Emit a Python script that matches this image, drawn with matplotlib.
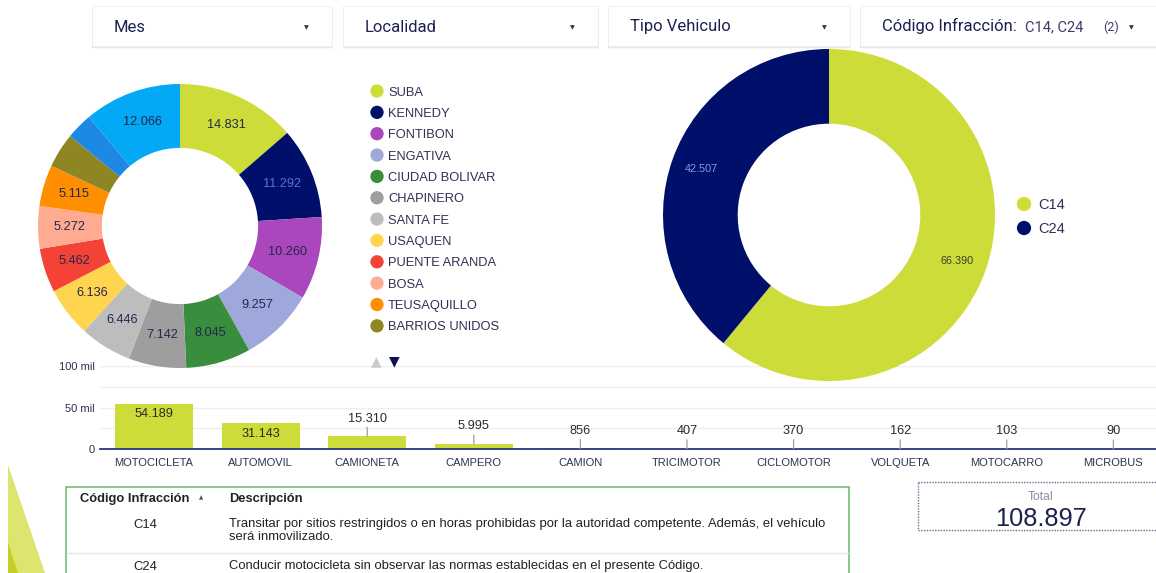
import matplotlib
matplotlib.use("Agg")
import matplotlib.pyplot as plt
from matplotlib.patches import Rectangle, Polygon
import numpy as np

W, H = 1156, 573

# ---------------- data ----------------
filtros = ["Mes", "Localidad", "Tipo Vehiculo", "Código Infracción"]
filtro_codigo_sel = "C14, C24"
filtro_codigo_n = "(2)"

localidades = ["SUBA", "KENNEDY", "FONTIBON", "ENGATIVA", "CIUDAD BOLIVAR",
               "CHAPINERO", "SANTA FE", "USAQUEN", "PUENTE ARANDA", "BOSA",
               "TEUSAQUILLO", "BARRIOS UNIDOS", "OTRA LOCALIDAD", "OTROS"]
loc_valores = [14831, 11292, 10260, 9257, 8045, 7142, 6446, 6136, 5462, 5272,
               5115, 4300, 3273, 12066]
loc_colores = ["#CDDC39", "#00106A", "#AB47BC", "#9FA8DA", "#388E3C",
               "#9E9E9E", "#BDBDBD", "#FFD54F", "#F44336", "#FFAB91",
               "#FF8F00", "#8E8622", "#1E88E5", "#03A9F4"]
loc_leyenda_n = 12

vehiculos = ["MOTOCICLETA", "AUTOMOVIL", "CAMIONETA", "CAMPERO", "CAMION",
             "TRICIMOTOR", "CICLOMOTOR", "VOLQUETA", "MOTOCARRO", "MICROBUS"]
veh_valores = [54189, 31143, 15310, 5995, 856, 407, 370, 162, 103, 90]

codigos = ["C14", "C24"]
cod_valores = [66390, 42507]
cod_colores = ["#CDDC39", "#00106A"]

tabla_cols = ["Código Infracción", "Descripción"]
tabla_codigos = ["C14", "C24"]
tabla_desc = ["Transitar por sitios restringidos o en horas prohibidas por la autoridad competente. Además, el vehículo\nserá inmovilizado.",
              "Conducir motocicleta sin observar las normas establecidas en el presente Código."]

total = 108897

NAVY = "#1c2150"
TXT = "#2e3152"


def fmt(v):
    return f"{v:,}".replace(",", ".")


fig = plt.figure(figsize=(W / 100, H / 100), dpi=100)
fig.patch.set_facecolor("white")


def px_axes(x0, y0, w, h, **kw):
    return fig.add_axes([x0 / W, 1 - (y0 + h) / H, w / W, h / H], **kw)


# ---------------- bar chart ----------------
axb = px_axes(100, 366, 1056, 83, zorder=1)
axb.patch.set_alpha(0)
xpos = np.arange(len(vehiculos))
bars = axb.bar(xpos, veh_valores, width=0.73, color="#CDDC39", zorder=2)
axb.set_xlim(-0.507, 9.40)
axb.set_ylim(0, 100000)
axb.set_yticks([0, 25000, 50000, 75000, 100000])
axb.set_yticklabels(["0", "", "50 mil", "", "100 mil"])
axb.grid(axis="y", color="#eeeeee", lw=1, zorder=0)
axb.set_xticks(xpos)
axb.set_xticklabels(vehiculos)
for s in ["top", "right", "left"]:
    axb.spines[s].set_visible(False)
axb.spines["bottom"].set_color("#2c3580")
axb.spines["bottom"].set_linewidth(1.3)
axb.tick_params(axis="y", length=0, pad=4, labelsize=8, labelcolor=TXT)
axb.tick_params(axis="x", length=0, pad=6.5, labelsize=8, labelcolor=TXT)
for lab in axb.get_xticklabels() + axb.get_yticklabels():
    lab.set_fontfamily("Liberation Sans")
for b, v in zip(bars, veh_valores):
    xc = b.get_x() + b.get_width() / 2
    if v > 25000:
        axb.annotate(fmt(v), (xc, v), xytext=(0, -7.5), textcoords="offset points",
                     ha="center", va="center", fontsize=9.2, color="#2a2a2a",
                     family="Liberation Sans")
    else:
        axb.annotate(fmt(v), (xc, v), xytext=(0, 12.8), textcoords="offset points",
                     ha="center", va="center", fontsize=9.2, color="#2a2a2a",
                     family="Liberation Sans",
                     arrowprops=dict(arrowstyle="-", color="#a0a0a0", lw=0.9,
                                     relpos=(0.5, 0.1), shrinkA=0, shrinkB=0))

# ---------------- left donut ----------------
axl = px_axes(38, 84, 284, 284, zorder=2)
wl, _ = axl.pie(loc_valores, colors=loc_colores, startangle=90, counterclock=False,
                radius=1, wedgeprops=dict(width=0.45, edgecolor="none"))
axl.set_xlim(-1, 1)
axl.set_ylim(-1, 1)
for w, v, c in zip(wl, loc_valores, loc_colores):
    if v < 5000:
        continue
    a = np.deg2rad((w.theta1 + w.theta2) / 2)
    col = "#5a6fd6" if c == "#00106A" else "#23274d"
    axl.text(0.78 * np.cos(a), 0.78 * np.sin(a), fmt(v), ha="center", va="center",
             fontsize=9.2, color=col, family="Liberation Sans")

# ---------------- right donut ----------------
axr = px_axes(663, 49, 332, 332, zorder=2)
wr, _ = axr.pie(cod_valores, colors=cod_colores, startangle=90, counterclock=False,
                radius=1, wedgeprops=dict(width=0.45, edgecolor="none"))
axr.set_xlim(-1, 1)
axr.set_ylim(-1, 1)
for w, v, c in zip(wr, cod_valores, cod_colores):
    a = np.deg2rad((w.theta1 + w.theta2) / 2)
    col = "#8a97e0" if c == "#00106A" else "#3d3f2c"
    axr.text(0.82 * np.cos(a), 0.82 * np.sin(a), fmt(v), ha="center", va="center",
             fontsize=7.8, color=col, family="Liberation Sans")

# ---------------- overlay ----------------
ov = px_axes(0, 0, W, H, zorder=3)
ov.set_xlim(0, W)
ov.set_ylim(H, 0)
ov.axis("off")
ov.patch.set_alpha(0)

# decorative triangles
ov.add_patch(Polygon([(8, 465), (45, 573), (8, 573)], closed=True, fc="#dde56e", ec="none"))
ov.add_patch(Polygon([(8, 543), (18, 573), (8, 573)], closed=True, fc="#c3cf22", ec="none"))

# filter boxes
boxes = [(92, 332), (343, 598), (608, 850), (860, 1170)]
for (x0, x1), name in zip(boxes, filtros):
    for k, al in enumerate([0.09, 0.06, 0.03]):
        ov.add_patch(Rectangle((x0 - 0.5, 6 + k + 0.8), x1 - x0 + 1.5, 40, fc="#000000",
                               ec="none", alpha=al))
    ov.add_patch(Rectangle((x0, 6), x1 - x0, 40, fc="white", ec="#efefef", lw=0.6))
    ov.text(x0 + 22, 31.5, name + (":" if name.startswith("Código") else ""),
            ha="left", va="baseline", fontsize=12, color=NAVY, family="Roboto")
    ax_arrow = (x1 - 26) if x1 < 1160 else 1131
    ov.text(ax_arrow, 27.5, "▼", ha="center", va="center", fontsize=4.5, color="#333333",
            family="DejaVu Sans")
ov.text(1025, 31.5, filtro_codigo_sel, ha="left", va="baseline", fontsize=10.5,
        color="#3a3f66", family="Roboto")
ov.text(1103, 31.5, filtro_codigo_n, ha="left", va="baseline", fontsize=9,
        color="#3a3f66", family="Roboto")

# left legend
for i in range(loc_leyenda_n):
    y = 91 + i * 21.35
    ov.scatter([377], [y], s=92, color=loc_colores[i], edgecolors="none")
    ov.text(388, y + 1.5, localidades[i], ha="left", va="center", fontsize=9.3, color=TXT,
            family="Liberation Sans")
ov.text(376, 361, "▲", ha="center", va="center", fontsize=10, color="#cccccc", family="DejaVu Sans")
ov.text(394, 361, "▼", ha="center", va="center", fontsize=10, color="#0d1254", family="DejaVu Sans")

# right legend
for i, (c, col) in enumerate(zip(codigos, cod_colores)):
    y = 204 + i * 24
    ov.scatter([1024], [y], s=105, color=col, edgecolors="none")
    ov.text(1038, y + 1, c, ha="left", va="center", fontsize=10.5, color=TXT, family="Liberation Sans")

# table
ov.add_patch(Rectangle((66, 487), 783, 120, fc="white", ec="#66bb6a", lw=1.1))
ov.text(80, 499, tabla_cols[0], ha="left", va="center", fontsize=9.3, fontweight="bold",
        color="#222222", family="Liberation Sans")
ov.text(201, 498, "▲", ha="center", va="center", fontsize=4, color="#555555", family="DejaVu Sans")
ov.text(229, 499, tabla_cols[1], ha="left", va="center", fontsize=9.3, fontweight="bold",
        color="#222222", family="Liberation Sans")
row_y = [525, 567]
for i, (cod, desc) in enumerate(zip(tabla_codigos, tabla_desc)):
    ov.text(145, row_y[i], cod, ha="center", va="center", fontsize=9.4, color="#222222",
            family="Liberation Sans")
    ov.text(229, row_y[i] - 7, desc, ha="left", va="top", fontsize=9.35, color="#222222",
            family="Liberation Sans", linespacing=1.13)
ov.plot([67, 848], [553, 553], color="#e6e6e6", lw=1)

# total box
ov.add_patch(Rectangle((918, 482), 260, 48, fc="white", ec="#6b6f8f", lw=1, ls=(0, (1, 1))))
ov.text(1041, 497.5, "Total", ha="center", va="center", fontsize=8.7, color="#8a8ca0",
        family="Liberation Sans")
ov.text(1041, 519, fmt(total), ha="center", va="center", fontsize=18.3, color=NAVY,
        family="Liberation Sans")

fig.savefig("out.png", dpi=100, facecolor="white")
